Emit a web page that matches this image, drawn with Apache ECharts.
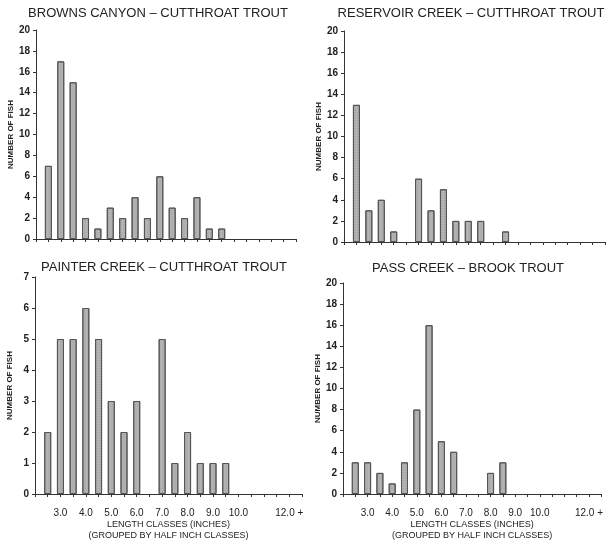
<!DOCTYPE html>
<html>
<head>
<meta charset="utf-8">
<script src="https://cdn.jsdelivr.net/npm/echarts@6/dist/echarts.min.js"></script>
<style>
  html, body { margin: 0; padding: 0; background: #fff; }
  #chart { width: 606px; height: 550px; }
</style>
</head>
<body>
<div id="chart"></div>
<script>
// half inch length classes (inches)
const lengthClasses = [2.5, 3.0, 3.5, 4.0, 4.5, 5.0, 5.5, 6.0, 6.5, 7.0, 7.5, 8.0, 8.5, 9.0, 9.5];

// number of fish per class
const brownsCanyon = [7, 17, 15, 2, 1, 3, 2, 4, 2, 6, 3, 2, 4, 1, 1];
const reservoirCreek = [13, 3, 4, 1, 0, 6, 3, 5, 2, 2, 2, 0, 1, 0, 0];
const painterCreek = [2, 5, 5, 6, 5, 3, 2, 3, 0, 5, 1, 2, 1, 1, 1];
const passCreek = [3, 3, 2, 1, 3, 8, 16, 5, 4, 0, 0, 2, 3, 0, 0];

const panelTitles = [
    "BROWNS CANYON – CUTTHROAT TROUT",
    "RESERVOIR CREEK – CUTTHROAT TROUT",
    "PAINTER CREEK – CUTTHROAT TROUT",
    "PASS CREEK – BROOK TROUT"
];

// x tick labels
const tickValues = [3, 4, 5, 6, 7, 8, 9, 10, 12];
const tickLabels = ["3.0", "4.0", "5.0", "6.0", "7.0", "8.0", "9.0", "10.0", "12.0 +"];

const yMax = [20, 20, 7, 20];
const yStep = [2, 2, 1, 2];

const grids = [
    { left: 36, top: 30, width: 260, height: 209 },
    { left: 344, top: 31, width: 261, height: 211 },
    { left: 35, top: 277, width: 267, height: 217 },
    { left: 343, top: 283, width: 262, height: 211 }
];
const titlePos = [[153, 2], [466, 2], [159, 256], [463, 257]];

const panels = [brownsCanyon, reservoirCreek, painterCreek, passCreek];
const axisColor = "#333";

const chart = echarts.init(document.getElementById("chart"));

chart.setOption({
    animation: false,
    backgroundColor: "#fff",
    title: panelTitles.map((t, i) => ({
        text: t,
        left: titlePos[i][0],
        top: titlePos[i][1],
        textAlign: "center",
        textStyle: { fontFamily: "Liberation Sans", fontSize: 13, fontWeight: "normal", color: "#222" }
    })),
    grid: grids,
    xAxis: grids.map((g, i) => ({
        type: "value",
        gridIndex: i,
        min: 2,
        max: 12.5,
        interval: 0.5,
        splitLine: { show: false },
        axisLine: { show: true, lineStyle: { color: axisColor, width: 1 } },
        axisTick: { show: true, length: 3, lineStyle: { color: axisColor } },
        axisLabel: {
            show: i >= 2,
            margin: 14,
            fontFamily: "Liberation Sans",
            fontSize: 10,
            color: "#222",
            formatter: v => {
                const k = tickValues.indexOf(v);
                return k >= 0 ? tickLabels[k] : "";
            }
        },
        name: i >= 2 ? "LENGTH CLASSES (INCHES)\n(GROUPED BY HALF INCH CLASSES)" : "",
        nameLocation: "middle",
        nameGap: 24,
        nameTextStyle: { fontFamily: "Liberation Sans", fontSize: 9, color: "#222", lineHeight: 11, verticalAlign: "top" }
    })),
    yAxis: grids.map((g, i) => ({
        type: "value",
        gridIndex: i,
        min: 0,
        max: yMax[i],
        interval: yStep[i],
        splitLine: { show: false },
        axisLine: { show: true, lineStyle: { color: axisColor, width: 1 } },
        axisTick: { show: true, length: 3, lineStyle: { color: axisColor } },
        axisLabel: {
            margin: 6,
            fontFamily: "Liberation Sans",
            fontWeight: "bold",
            fontSize: 10,
            color: "#222"
        },
        name: "NUMBER OF FISH",
        nameLocation: "middle",
        nameRotate: 90,
        nameGap: 21,
        nameTextStyle: { fontFamily: "Liberation Sans", fontWeight: "bold", fontSize: 8, color: "#222" }
    })),
    series: panels.map((vals, i) => ({
        type: "bar",
        xAxisIndex: i,
        yAxisIndex: i,
        barWidth: 7,
        // empty classes draw nothing
        data: lengthClasses.map((c, k) => [c, vals[k]]).filter(d => d[1] > 0),
        itemStyle: {
            color: "#b4b4b4",
            borderColor: "#555",
            borderWidth: 1,
            decal: {
                symbol: "rect",
                symbolSize: 0.6,
                color: "rgba(60,60,60,0.35)",
                dashArrayX: [2, 1],
                dashArrayY: [1, 1],
                rotation: 0
            }
        }
    }))
});
</script>
</body>
</html>
